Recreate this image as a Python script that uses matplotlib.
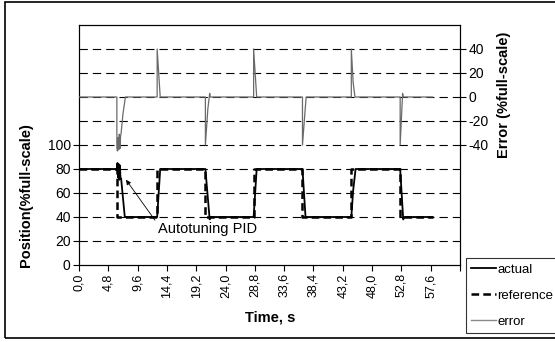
import matplotlib.pyplot as plt
from matplotlib.lines import Line2D
from matplotlib.patches import Rectangle

plt.rcParams['font.family'] = ['Liberation Sans', 'DejaVu Sans']
plt.rcParams['lines.scale_dashes'] = False

# breakpoints (time in s, value in %full-scale)
t_ref = [0.0, 6.2, 6.2, 12.8, 12.8, 20.7, 20.7, 28.6, 28.6, 36.6, 36.6, 44.6, 44.6, 52.6, 52.6, 57.9]
ref = [80, 80, 40, 40, 80, 80, 40, 40, 80, 80, 40, 40, 80, 80, 40, 40]

t_act = [0.0, 6.2, 6.3, 6.4, 6.5, 6.6, 6.7, 6.8, 6.9, 7.5, 12.8, 13.3, 20.7, 21.4, 21.5,
         28.6, 29.1, 36.6, 37.1, 44.6, 44.9, 45.3, 52.6, 53.1, 53.3, 57.9]
act = [80, 80, 85, 73, 84, 71, 83, 72, 72, 40, 40, 80, 80, 38, 40,
       40, 80, 80, 40, 40, 62, 80, 80, 38, 40, 40]

t_err = [0.0, 6.2, 6.2, 6.3, 6.4, 6.5, 6.6, 6.7, 6.8, 6.9, 7.2, 7.6, 12.8, 12.8, 13.3,
         20.7, 20.7, 21.1, 21.4, 21.5, 28.6, 28.6, 29.1, 36.6, 36.6, 37.2,
         44.6, 44.6, 44.9, 45.2, 52.6, 52.6, 53.0, 53.1, 57.9]
err = [0, 0, -42, -45, -34, -44, -31, -43, -33, -30, -14, 0, 0, 40, 0,
       0, -40, -10, 3, 0, 0, 40, 0, 0, -40, 0,
       0, 40, 12, 0, 0, -40, 3, 0, 0]

x_ticks = [0.0, 4.8, 9.6, 14.4, 19.2, 24.0, 28.8, 33.6, 38.4, 43.2, 48.0, 52.8, 57.6, 62.4]
x_labels = ['0,0', '4,8', '9,6', '14,4', '19,2', '24,0', '28,8', '33,6', '38,4', '43,2',
            '48,0', '52,8', '57,6', '']
pos_ticks = [0, 20, 40, 60, 80, 100]
err_ticks = [-40, -20, 0, 20, 40]

W, H = 555, 342
fig = plt.figure(figsize=(W / 100, H / 100), dpi=100)
ax = fig.add_axes([79 / W, 1 - 265 / H, (460 - 79) / W, (265 - 25) / H])
ax2 = ax.twinx()

# outer chart border
fig.patches.append(Rectangle((5 / W, 1 - 338 / H), 1, (338 - 2) / H, transform=fig.transFigure,
                             fill=False, edgecolor='black', lw=1.2))

for v in range(20, 200, 20):
    ax.axhline(v, color='black', lw=0.8, dashes=[6, 3.6], zorder=1)

ax.plot(t_act, act, color='black', lw=1.3, zorder=3)
ax.plot(t_ref, ref, color='black', lw=1.8, dashes=[5.5, 3], zorder=4)
ax2.plot(t_err, err, color='#6a6a6a', lw=0.9, zorder=3)

ax.set_xlim(0, 62.4)
ax.set_ylim(0, 200)
ax2.set_ylim(-140, 60)

ax.set_xticks(x_ticks)
ax.set_xticklabels(x_labels, rotation=90, fontsize=9)
ax.set_yticks(pos_ticks)
ax.set_yticklabels([str(v) for v in pos_ticks], fontsize=10)
ax2.set_yticks(err_ticks)
ax2.set_yticklabels([str(v) for v in err_ticks], fontsize=10)
for a in (ax, ax2):
    a.tick_params(direction='out', length=4, width=0.8, pad=2)
    for s in a.spines.values():
        s.set_linewidth(0.8)

fig.text(26 / W, 1 - 195 / H, 'Position(%full-scale)', rotation=90, ha='center', va='center',
         fontsize=10.5, fontweight='bold')
fig.text(504 / W, 1 - 95 / H, 'Error (%full-scale)', rotation=90, ha='center', va='center',
         fontsize=10.5, fontweight='bold')
fig.text(270 / W, 1 - 317 / H, 'Time, s', ha='center', va='center', fontsize=10.5, fontweight='bold')

ax.annotate('Autotuning PID', xy=(7.7, 71), xytext=(12.9, 30), fontsize=10.5, ha='left', va='center',
            arrowprops=dict(arrowstyle='-|>', color='black', lw=0.6, mutation_scale=7,
                            shrinkA=0, shrinkB=0, relpos=(0, 0.85)), zorder=5)

handles = [Line2D([], [], color='black', lw=1.3),
           Line2D([], [], color='black', lw=1.8, dashes=[5.5, 3]),
           Line2D([], [], color='#8a8a8a', lw=1.0)]
leg = fig.legend(handles, ['actual', 'reference', 'error'], loc='upper left',
                 bbox_to_anchor=(466 / W, 1 - 258 / H), borderaxespad=0, fontsize=9.5,
                 frameon=True, fancybox=False, edgecolor='black', handlelength=1.85,
                 handletextpad=0.1, labelspacing=1.05, borderpad=0.4)
leg.get_frame().set_linewidth(0.8)

fig.savefig('out.png', dpi=100)
